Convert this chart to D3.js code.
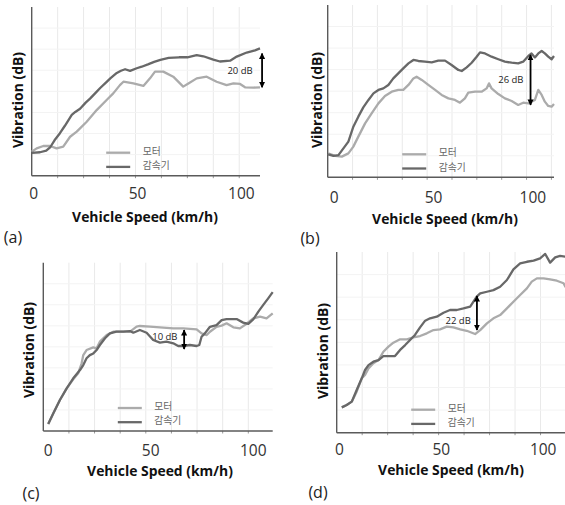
<!DOCTYPE html>
<html><head><meta charset="utf-8">
<script src="https://cdn.jsdelivr.net/npm/d3@7"></script>
<style>
html,body{margin:0;padding:0;background:#fff;}
svg{display:block;}
</style></head><body>
<svg id="chart" width="565" height="505"></svg>
<script>
// ---------- data ----------
const seriesNames = ["모터", "감속기"];          // motor (light), reducer (dark)
const xTickValues = [0, 50, 100];
const xTitle = "Vehicle Speed (km/h)";
const yTitle = "Vibration (dB)";
const panelLetters = ["(a)", "(b)", "(c)", "(d)"];

// [speed km/h, vibration (relative dB)]
const motorA = [[-1,14.2],[1.4,16.2],[4.6,17.6],[7.8,17.6],[11.0,16.2],[14.2,17.2],[17.5,23.1],[20.7,26.1],[25.5,32.0],[30.3,38.9],[35.1,44.9],[38.3,48.8],[41.5,53.7],[43.2,55.7],[48.0,54.7],[52.8,53.2],[56.0,57.7],[58.4,61.7],[62.4,61.7],[67.2,58.7],[72.0,52.8],[74.5,54.7],[78.5,57.7],[83.3,58.7],[88.1,55.7],[92.9,53.7],[96.2,54.7],[99.4,54.4],[101.8,52.4],[105.8,52.2],[109,52.4]];
const gearA = [[-1,13.5],[3,13.9],[6,14.8],[8,17],[10,21],[12.6,25.2],[15,29.6],[18.3,36],[20,37.8],[22.3,39.7],[25,43.3],[27.1,45.7],[30,49.4],[32,52],[35,55.5],[37,57.8],[40,60.9],[42,62.2],[44,63.1],[46.4,62.1],[49.6,63.7],[52,64.6],[55,66.0],[58,67.5],[61,68.7],[65,69.8],[70,70.2],[74,70.2],[78.5,71.5],[81.7,70.8],[86.5,68.8],[89.7,67.7],[94.6,68.2],[97.8,70.6],[102.6,73.0],[106.6,74.3],[109,75.5]];

const motorB = [[-3,13.9],[0.5,12.4],[3.9,12.0],[7.2,13.9],[9.7,17.8],[12.2,23.6],[15.6,31.3],[18.9,37.1],[22.3,42.9],[25.6,47.2],[29.0,49.7],[32.3,50.7],[34.8,50.7],[37.4,53.6],[39.9,57.4],[41.5,58.4],[44.1,56.5],[47.4,53.6],[50.8,50.7],[54.1,47.8],[57.5,45.8],[60.8,44.9],[63.3,43.3],[65.8,45.8],[67.5,49.1],[70.9,49.7],[74.2,49.7],[76.7,51.6],[77.9,54.5],[79.2,51.6],[82.6,48.3],[85.9,45.8],[89.3,44.3],[92.6,42.0],[95.1,43.3],[97.7,42.9],[99.3,43.9],[101,44.9],[102.7,50.7],[104.4,47.8],[106,43.9],[107.7,41.4],[109.4,41.0],[110.6,42.6]];
const gearB = [[-3,13.3],[-0.3,12.4],[2.2,12.9],[4.7,16.8],[7.2,20.7],[9.7,29.4],[12.2,35.2],[14.7,40.6],[17.3,44.9],[19.8,48.7],[22.3,50.7],[24.8,51.6],[27.3,53.6],[29.8,57.4],[32.3,60.3],[34.8,63.2],[37.4,66.1],[39.9,68.1],[42.4,67.5],[45.7,67.1],[49.1,66.7],[52.4,67.7],[55.8,67.7],[59.1,65.2],[62.5,62.3],[64.2,61.7],[66.7,63.8],[69.2,66.5],[71.7,70.0],[73.4,72.5],[75.9,71.9],[79.2,70.0],[82.6,68.5],[85.9,67.1],[89.3,66.5],[92.6,66.1],[95.1,67.1],[97.7,70.4],[99.3,71.9],[101,69.6],[102.7,71.9],[104.4,73.3],[106,71.9],[107.7,70.0],[109.4,68.5],[110.6,70.4]];

const motorC = [[0,4.2],[2.5,10.5],[5.7,18.4],[9.0,25.3],[12.2,30.7],[14.6,34.3],[16.3,40.2],[17.1,45.1],[18.7,48.1],[22.0,49.7],[23.6,49.1],[25.2,53.1],[28.5,57.0],[31.7,59.0],[36.6,59.0],[39.9,59.0],[43.1,62.0],[44.7,62.4],[49.6,62.0],[54.5,61.6],[61.0,61.0],[65.9,61.0],[72.4,60.4],[74.8,58.0],[77.3,57.0],[78.9,59.0],[82.1,61.9],[84.6,62.6],[87.0,64.0],[90.3,61.6],[93.5,61.0],[96.6,63.6],[100.0,66.9],[103.3,67.9],[106.5,66.9],[109.5,69.9]];
const gearC = [[0,4.2],[2.5,10.5],[5.7,18.4],[9.0,25.3],[12.2,31.3],[15.5,36.2],[17.1,39.2],[18.7,43.2],[20.3,45.1],[22.0,46.1],[23.6,48.1],[25.2,51.1],[27.7,55.1],[30.1,58.0],[33.3,59.0],[36.6,59.0],[39.9,59.4],[41.5,58.4],[44.7,60.0],[48.0,58.4],[51.2,54.1],[54.5,52.5],[57.7,53.1],[61.0,52.1],[63.4,50.5],[65.9,50.5],[69.1,51.1],[72.4,50.5],[73.7,51.1],[74.8,56.0],[76.4,58.0],[78.9,61.9],[82.1,62.9],[84.6,65.9],[87.0,66.5],[91.9,66.5],[95.1,64.4],[97.6,63.6],[100.0,66.3],[102.5,70.9],[104.9,74.9],[107.3,78.8],[109.5,82.5]];

const motorD = [[1.2,14.0],[3.6,15.3],[6.1,17.2],[8.5,22.7],[11.0,30.1],[12.6,32.0],[14.3,35.6],[16.7,38.4],[19.2,40.2],[21.6,44.8],[24.1,47.6],[26.5,49.8],[29.8,51.7],[33.1,51.7],[36.3,52.8],[39.6,53.5],[42.9,55.0],[46.2,56.8],[49.4,57.2],[52.7,58.7],[56.0,58.3],[59.3,57.2],[62.5,56.4],[66.6,54.6],[69.1,56.8],[72.4,60.5],[75.6,63.3],[78.9,65.1],[82.2,68.8],[85.4,72.5],[88.7,76.2],[92.0,79.9],[94.4,83.6],[96.9,85.4],[100.2,85.4],[103.4,84.9],[106.7,84.1],[110.0,82.7],[111,80.5]];
const gearD = [[1.2,14.0],[3.6,15.3],[6.1,17.2],[8.5,23.6],[11.0,30.1],[12.6,34.7],[14.3,37.4],[16.7,39.3],[19.2,40.2],[21.6,42.4],[24.1,42.4],[27.3,42.4],[29.8,45.8],[32.3,48.5],[34.7,51.3],[37.1,54.1],[39.6,58.3],[42.1,62.0],[44.5,63.3],[47.8,64.2],[51.1,66.4],[54.3,67.9],[57.6,67.9],[60.9,68.8],[64.2,69.8],[67.4,75.3],[69.1,77.1],[72.4,78.0],[75.6,78.9],[78.9,80.8],[82.2,84.5],[85.4,90.4],[88.7,93.7],[92.0,94.6],[95.3,95.2],[98.5,96.5],[101.0,98.9],[103.4,94.1],[105.9,97.0],[108.3,97.8],[111,97.4]];

// gap annotations: [speed, upper dB, lower dB] and [label, speed, dB]
const gapA = [110, 72.5, 52.4];  const gapLabelA = ["20 dB", 99.4, 62.1];
const gapB = [98.8, 71, 42];     const gapLabelB = ["26 dB", 88.9, 56.5];
const gapC = [66.3, 60.0, 48.7]; const gapLabelC = ["10 dB", 56.9, 56.0];
const gapD = [67.5, 75.6, 56.8]; const gapLabelD = ["22 dB", 58.3, 62.0];

// ---------- layout ----------
const panels = [
  {motor: motorA, gear: gearA, gap: gapA, gapLabel: gapLabelA, letter: panelLetters[0],
   x0: 31.7, x1: 260, yTop: 7, yBot: 175.7, dom: [-1, 109], tickY: 193, titleX: 145, titleY: 216, yTitleX: 17, yTitleY: 100, letterX: 13, letterY: 237},
  {motor: motorB, gear: gearB, gap: gapB, gapLabel: gapLabelB, letter: panelLetters[1],
   x0: 327.7, x1: 554, yTop: 5, yBot: 177.3, dom: [-3.2, 110.6], tickY: 197, titleX: 445, titleY: 218, yTitleX: 316.7, yTitleY: 100, letterX: 310, letterY: 238},
  {motor: motorC, gear: gearC, gap: gapC, gapLabel: gapLabelC, letter: panelLetters[2],
   x0: 43.3, x1: 272.7, yTop: 262.7, yBot: 431, dom: [-2.4, 109.5], tickY: 450, titleX: 160, titleY: 470, yTitleX: 28.3, yTitleY: 350, letterX: 31, letterY: 493},
  {motor: motorD, gear: gearD, gap: gapD, gapLabel: gapLabelD, letter: panelLetters[3],
   x0: 336.7, x1: 566, yTop: 252, yBot: 432.7, dom: [-1.3, 111.2], tickY: 449, titleX: 451, titleY: 469, yTitleX: 322, yTitleY: 351, letterX: 318, letterY: 492}
];

const lightColor = "#ababab", darkColor = "#686868";
const svg = d3.select("#chart");

const defs = svg.append("defs");
defs.append("marker").attr("id", "arrowHead")
  .attr("viewBox", "0 0 10 10").attr("refX", 9).attr("refY", 5)
  .attr("markerWidth", 3.4).attr("markerHeight", 3.4)
  .attr("orient", "auto-start-reverse").attr("markerUnits", "strokeWidth")
  .append("path").attr("d", "M0,0 L10,5 L0,10 z").attr("fill", "#000");

// fit title font size to measured width
const probe = svg.append("text").attr("font-family", "Open Sans").attr("font-weight", 700)
  .attr("font-size", 20).text(xTitle);
const titleSize = 20 * 146 / probe.node().getComputedTextLength();
probe.remove();

panels.forEach(p => {
  const x = d3.scaleLinear().domain(p.dom).range([p.x0, p.x1]);
  const y = d3.scaleLinear().domain([0, 100]).range([p.yBot, p.yTop]);
  const g = svg.append("g");

  // faint grid
  const vgrid = d3.range(p.dom[0] + 12.5, p.dom[1], 12.5);
  g.selectAll(".vg").data(vgrid).enter().append("line")
    .attr("x1", d => x(d)).attr("x2", d => x(d))
    .attr("y1", p.yTop).attr("y2", p.yBot)
    .attr("stroke", "#e9e9e9").attr("stroke-width", 1);
  const hgrid = d3.range(12.5, 100, 12.5);
  g.selectAll(".hg").data(hgrid).enter().append("line")
    .attr("x1", p.x0).attr("x2", p.x1)
    .attr("y1", d => y(d)).attr("y2", d => y(d))
    .attr("stroke", "#f3f3f3").attr("stroke-width", 1);
  // small ticks at grid positions
  g.selectAll(".tk").data(vgrid).enter().append("line")
    .attr("x1", d => x(d)).attr("x2", d => x(d))
    .attr("y1", p.yBot).attr("y2", p.yBot + 2.5)
    .attr("stroke", "#999").attr("stroke-width", 1);

  // axes lines
  g.append("line").attr("x1", p.x0).attr("x2", p.x0).attr("y1", p.yTop).attr("y2", p.yBot)
    .attr("stroke", "#5a5a5a").attr("stroke-width", 1.4);
  g.append("line").attr("x1", p.x0).attr("x2", p.x1).attr("y1", p.yBot).attr("y2", p.yBot)
    .attr("stroke", "#5a5a5a").attr("stroke-width", 1.4);

  // tick labels
  g.selectAll(".tl").data(xTickValues).enter().append("text")
    .attr("x", d => x(d)).attr("y", p.tickY)
    .attr("text-anchor", "middle").attr("dominant-baseline", "central")
    .attr("font-family", "Open Sans").attr("font-size", 15.5).attr("fill", "#333")
    .text(d => d);

  // series lines
  const line = d3.line().x(d => x(d[0])).y(d => y(d[1]));
  g.append("path").datum(p.motor).attr("d", line)
    .attr("fill", "none").attr("stroke", lightColor).attr("stroke-width", 2.3)
    .attr("stroke-linejoin", "round");
  g.append("path").datum(p.gear).attr("d", line)
    .attr("fill", "none").attr("stroke", darkColor).attr("stroke-width", 2.3)
    .attr("stroke-linejoin", "round");

  // gap arrow
  g.append("line")
    .attr("x1", x(p.gap[0])).attr("x2", x(p.gap[0]))
    .attr("y1", y(p.gap[1])).attr("y2", y(p.gap[2]))
    .attr("stroke", "#000").attr("stroke-width", 1.8)
    .attr("marker-start", "url(#arrowHead)").attr("marker-end", "url(#arrowHead)");
  g.append("text").attr("x", x(p.gapLabel[1])).attr("y", y(p.gapLabel[2]))
    .attr("text-anchor", "middle").attr("dominant-baseline", "central")
    .attr("font-family", "Open Sans").attr("font-size", 9.5).attr("fill", "#222")
    .text(p.gapLabel[0]);

  // legend
  const legX = p.x0 + 74.5;
  [lightColor, darkColor].forEach((c, i) => {
    const ly = p.yBot - 23 + i * 14.2;
    g.append("line").attr("x1", legX).attr("x2", legX + 24)
      .attr("y1", ly).attr("y2", ly)
      .attr("stroke", c).attr("stroke-width", 2.3);
    g.append("text").attr("x", legX + 36.5).attr("y", ly - 2)
      .attr("dominant-baseline", "central")
      .attr("font-family", "Noto Sans CJK KR").attr("font-size", 9.8).attr("fill", "#666")
      .text(seriesNames[i]);
  });

  // titles
  g.append("text").attr("x", p.titleX).attr("y", p.titleY)
    .attr("text-anchor", "middle").attr("dominant-baseline", "central")
    .attr("font-family", "Open Sans").attr("font-weight", 700).attr("font-size", titleSize)
    .attr("fill", "#111").text(xTitle);
  g.append("text")
    .attr("transform", `translate(${p.yTitleX},${p.yTitleY}) rotate(-90)`)
    .attr("text-anchor", "middle").attr("dominant-baseline", "central")
    .attr("font-family", "Open Sans").attr("font-weight", 700).attr("font-size", titleSize)
    .attr("fill", "#111").text(yTitle);

  // panel letter
  g.append("text").attr("x", p.letterX).attr("y", p.letterY)
    .attr("text-anchor", "middle").attr("dominant-baseline", "central")
    .attr("font-family", "Open Sans").attr("font-size", 16).attr("fill", "#222")
    .text(p.letter);
});
</script>
</body></html>
